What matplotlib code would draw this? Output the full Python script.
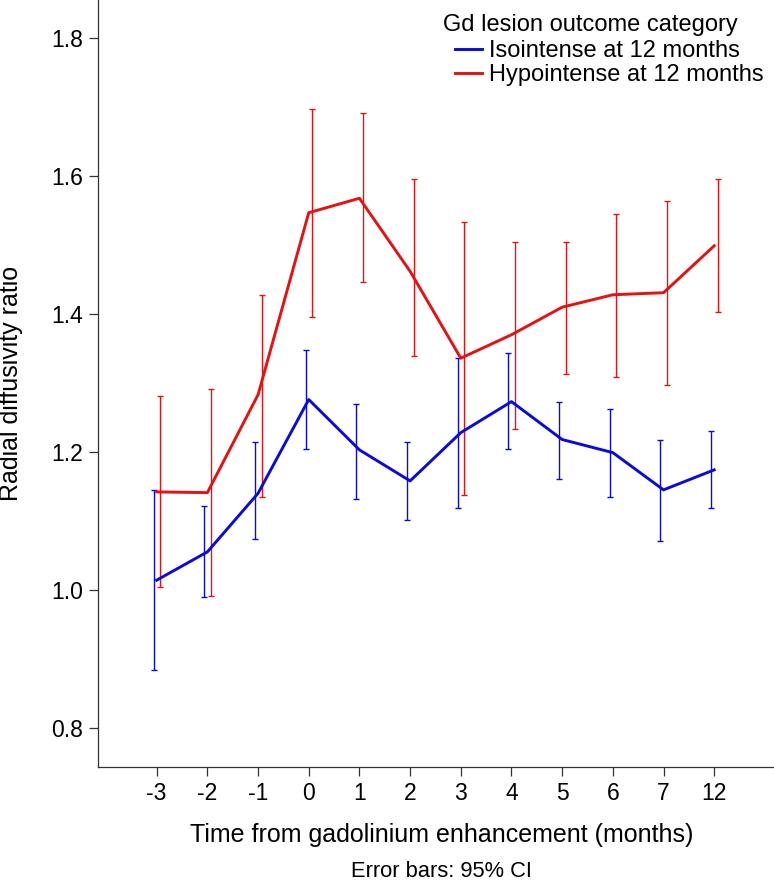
import numpy as np
import matplotlib
matplotlib.use("Agg")
import matplotlib.pyplot as plt

plt.rcParams['font.family'] = ['Liberation Sans', 'DejaVu Sans']

# months relative to gadolinium enhancement (categorical axis)
months = ['-3', '-2', '-1', '0', '1', '2', '3', '4', '5', '6', '7', '12']

# Isointense at 12 months: mean and 95% CI
iso_mean = [1.014, 1.055, 1.140, 1.276, 1.203, 1.158, 1.228, 1.273, 1.218, 1.199, 1.145, 1.174]
iso_lo = [0.883, 0.990, 1.074, 1.204, 1.132, 1.102, 1.118, 1.204, 1.161, 1.135, 1.071, 1.119]
iso_hi = [1.145, 1.121, 1.214, 1.348, 1.270, 1.214, 1.337, 1.343, 1.273, 1.262, 1.218, 1.230]

# Hypointense at 12 months: mean and 95% CI
hypo_mean = [1.142, 1.141, 1.283, 1.547, 1.568, 1.462, 1.336, 1.370, 1.410, 1.428, 1.431, 1.499]
hypo_lo = [1.004, 0.991, 1.135, 1.396, 1.447, 1.339, 1.138, 1.233, 1.313, 1.309, 1.297, 1.403]
hypo_hi = [1.281, 1.291, 1.427, 1.698, 1.691, 1.596, 1.533, 1.505, 1.505, 1.545, 1.564, 1.596]

blue = '#0a0ae0'
red = '#e81010'

fig = plt.figure(figsize=(7.74, 8.83), dpi=100)
ax = fig.add_axes([0.127, 0.1317, 0.873, 0.8683])

x = np.arange(len(months))


def draw_series(means, lo, hi, color, offset, label):
    means = np.array(means)
    err = [means - np.array(lo), np.array(hi) - means]
    ax.errorbar(x + offset, means, yerr=err, fmt='none', ecolor=color,
                elinewidth=1.0, capsize=2.3, capthick=1.0, zorder=2)
    ax.plot(x, means, color=color, linewidth=2.1, label=label, zorder=3)


draw_series(iso_mean, iso_lo, iso_hi, blue, -0.06, 'Isointense at 12 months')
draw_series(hypo_mean, hypo_lo, hypo_hi, red, 0.07, 'Hypointense at 12 months')

ax.set_xlim(-1.152, 12.18)
ax.set_ylim(0.7434, 1.8556)
ax.set_xticks(x)
ax.set_xticklabels(months)
ax.set_yticks([0.8, 1.0, 1.2, 1.4, 1.6, 1.8])
ax.set_yticklabels(['0.8', '1.0', '1.2', '1.4', '1.6', '1.8'])

for side in ['top', 'right']:
    ax.spines[side].set_visible(False)
for side in ['left', 'bottom']:
    ax.spines[side].set_color('#333333')
    ax.spines[side].set_linewidth(0.9)
ax.tick_params(axis='both', direction='out', length=6.8, width=0.9,
               color='#333333', labelsize=16.5, pad=4)

ax.set_xlabel('Time from gadolinium enhancement (months)', fontsize=18)
ax.xaxis.set_label_coords(0.508, -0.074)
ax.set_ylabel('Radial diffusivity ratio', fontsize=18)
ax.yaxis.set_label_coords(-0.112, 0.5)

fig.text(0.5705, 1 / 883, 'Error bars: 95% CI', ha='center', va='bottom',
         fontsize=15.75)

# legend
fig.text(443 / 774, 1 - 25 / 883, 'Gd lesion outcome category', ha='left',
         va='center', fontsize=17)
ax.legend(loc='upper left', bbox_to_anchor=(455 / 774, 1 - 40 / 883),
          bbox_transform=fig.transFigure, frameon=False, fontsize=17,
          handlelength=1.15, handletextpad=0.3, labelspacing=0.1,
          borderpad=0, borderaxespad=0)

fig.savefig('out.png', dpi=100)
